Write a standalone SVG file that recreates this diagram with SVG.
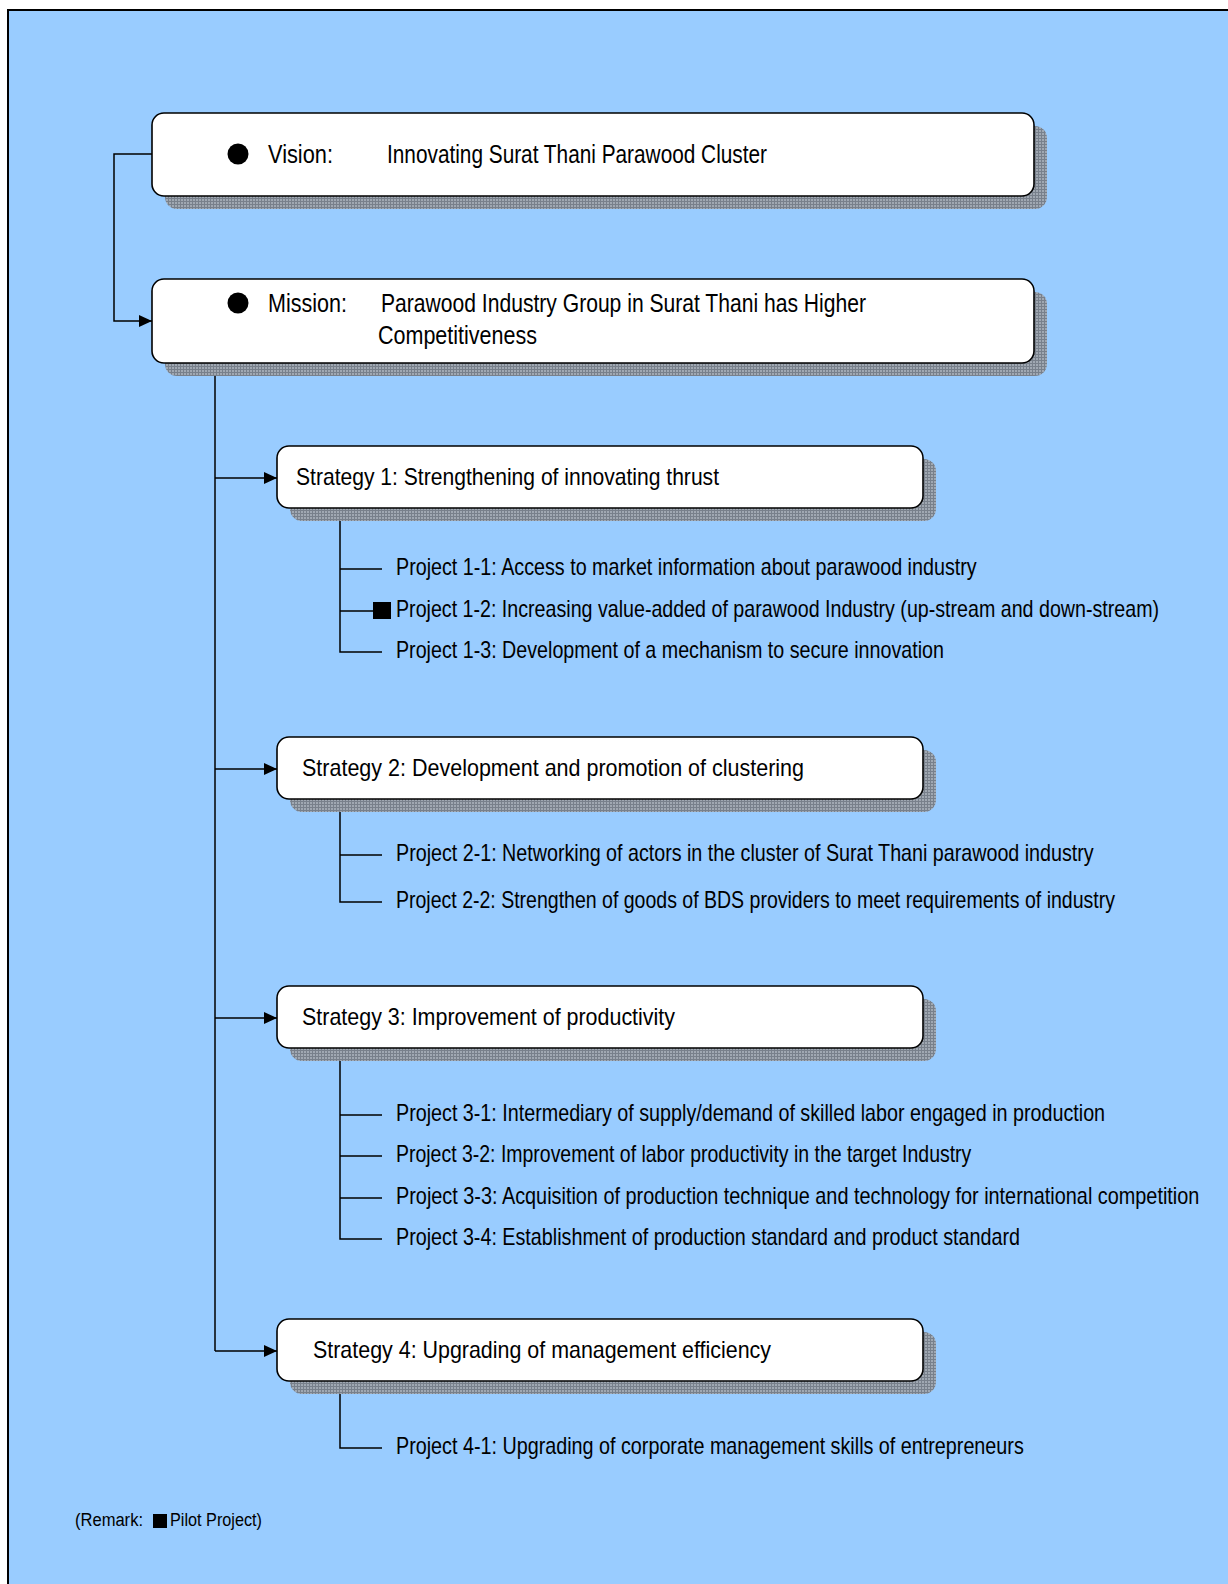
<svg xmlns="http://www.w3.org/2000/svg" width="1228" height="1584" viewBox="0 0 1228 1584">
<style>
.box{fill:#fff;stroke:#000;stroke-width:1.6}
.sh{fill:url(#hatch)}
.t{font-family:"Liberation Sans",Arial,sans-serif;fill:#000}
.big{font-size:25px}
.st{font-size:24px}
.pj{font-size:23px}
.rm{font-size:18px}
.ln{fill:none;stroke:#000;stroke-width:1.5}
</style>
<defs>
<pattern id="hatch" patternUnits="userSpaceOnUse" width="3" height="3">
<rect width="3" height="3" fill="#a0a8b2"/>
<rect width="3" height="1" fill="#78808b"/>
<rect width="1" height="3" fill="#78808b"/>
</pattern>
<marker id="arr" markerWidth="13" markerHeight="12" refX="13" refY="6" orient="auto" markerUnits="userSpaceOnUse">
<path d="M0,0 L13,6 L0,12 Z" fill="#000"/>
</marker>
</defs>
<rect x="8" y="10" width="1240" height="1600" fill="#99CCFF" stroke="#000" stroke-width="2"/>

<g id="connectors">
<path class="ln" d="M152,154 H114 V321 H152" marker-end="url(#arr)"/>
<path class="ln" d="M215,365 V1351"/>
<path class="ln" d="M215,478 H277" marker-end="url(#arr)"/>
<path class="ln" d="M215,769 H277" marker-end="url(#arr)"/>
<path class="ln" d="M215,1018 H277" marker-end="url(#arr)"/>
<path class="ln" d="M215,1351 H277" marker-end="url(#arr)"/>
<path class="ln" d="M340,508 V652 H382 M340,569 H382 M340,611 H374"/>
<path class="ln" d="M340,800 V902 H382 M340,855 H382"/>
<path class="ln" d="M340,1049 V1239 H382 M340,1115 H382 M340,1156 H382 M340,1198 H382"/>
<path class="ln" d="M340,1382 V1448 H382"/>
</g>

<g id="vision">
<rect class="sh" x="165" y="126" width="882" height="83" rx="12"/>
<rect class="box" x="152" y="113" width="882" height="83" rx="12"/>
<circle cx="238" cy="154" r="10.5"/>
<text class="t big" x="268" y="163" textLength="65" lengthAdjust="spacingAndGlyphs">Vision:</text>
<text class="t big" x="387" y="163" textLength="380" lengthAdjust="spacingAndGlyphs">Innovating Surat Thani Parawood Cluster</text>
</g>

<g id="mission">
<rect class="sh" x="165" y="292" width="882" height="84" rx="12"/>
<rect class="box" x="152" y="279" width="882" height="84" rx="12"/>
<circle cx="238" cy="303" r="10.5"/>
<text class="t big" x="268" y="312" textLength="79" lengthAdjust="spacingAndGlyphs">Mission:</text>
<text class="t big" x="381" y="312" textLength="485" lengthAdjust="spacingAndGlyphs">Parawood Industry Group in Surat Thani has Higher</text>
<text class="t big" x="378" y="344" textLength="159" lengthAdjust="spacingAndGlyphs">Competitiveness</text>
</g>

<g id="strategy1">
<rect class="sh" x="290" y="459" width="646" height="62" rx="12"/>
<rect class="box" x="277" y="446" width="646" height="62" rx="12"/>
<text class="t st" x="296" y="485" textLength="423" lengthAdjust="spacingAndGlyphs">Strategy 1: Strengthening of innovating thrust</text>
</g>
<g id="project1-1"><text class="t pj" transform="translate(396,575) scale(0.76,1)" x="0" y="0" textLength="764" lengthAdjust="spacingAndGlyphs">Project 1-1: Access to market information about parawood industry</text></g>
<g id="project1-2"><rect x="373" y="602" width="18" height="17" fill="#000"/><text class="t pj" transform="translate(396,617) scale(0.76,1)" x="0" y="0" textLength="1004" lengthAdjust="spacingAndGlyphs">Project 1-2: Increasing value-added of parawood Industry (up-stream and down-stream)</text></g>
<g id="project1-3"><text class="t pj" transform="translate(396,658) scale(0.76,1)" x="0" y="0" textLength="721" lengthAdjust="spacingAndGlyphs">Project 1-3: Development of a mechanism to secure innovation</text></g>

<g id="strategy2">
<rect class="sh" x="290" y="750" width="646" height="62" rx="12"/>
<rect class="box" x="277" y="737" width="646" height="62" rx="12"/>
<text class="t st" x="302" y="776" textLength="502" lengthAdjust="spacingAndGlyphs">Strategy 2: Development and promotion of clustering</text>
</g>
<g id="project2-1"><text class="t pj" transform="translate(396,861) scale(0.76,1)" x="0" y="0" textLength="918" lengthAdjust="spacingAndGlyphs">Project 2-1: Networking of actors in the cluster of Surat Thani parawood industry</text></g>
<g id="project2-2"><text class="t pj" transform="translate(396,908) scale(0.76,1)" x="0" y="0" textLength="946" lengthAdjust="spacingAndGlyphs">Project 2-2: Strengthen of goods of BDS providers to meet requirements of industry</text></g>

<g id="strategy3">
<rect class="sh" x="290" y="999" width="646" height="62" rx="12"/>
<rect class="box" x="277" y="986" width="646" height="62" rx="12"/>
<text class="t st" x="302" y="1025" textLength="373" lengthAdjust="spacingAndGlyphs">Strategy 3: Improvement of productivity</text>
</g>
<g id="project3-1"><text class="t pj" transform="translate(396,1121) scale(0.76,1)" x="0" y="0" textLength="933" lengthAdjust="spacingAndGlyphs">Project 3-1: Intermediary of supply/demand of skilled labor engaged in production</text></g>
<g id="project3-2"><text class="t pj" transform="translate(396,1162) scale(0.76,1)" x="0" y="0" textLength="757" lengthAdjust="spacingAndGlyphs">Project 3-2: Improvement of labor productivity in the target Industry</text></g>
<g id="project3-3"><text class="t pj" transform="translate(396,1204) scale(0.76,1)" x="0" y="0" textLength="1057" lengthAdjust="spacingAndGlyphs">Project 3-3: Acquisition of production technique and technology for international competition</text></g>
<g id="project3-4"><text class="t pj" transform="translate(396,1245) scale(0.76,1)" x="0" y="0" textLength="821" lengthAdjust="spacingAndGlyphs">Project 3-4: Establishment of production standard and product standard</text></g>

<g id="strategy4">
<rect class="sh" x="290" y="1332" width="646" height="62" rx="12"/>
<rect class="box" x="277" y="1319" width="646" height="62" rx="12"/>
<text class="t st" x="313" y="1358" textLength="458" lengthAdjust="spacingAndGlyphs">Strategy 4: Upgrading of management efficiency</text>
</g>
<g id="project4-1"><text class="t pj" transform="translate(396,1454) scale(0.76,1)" x="0" y="0" textLength="826" lengthAdjust="spacingAndGlyphs">Project 4-1: Upgrading of corporate management skills of entrepreneurs</text></g>

<g id="remark">
<text class="t rm" x="75" y="1526" textLength="68" lengthAdjust="spacingAndGlyphs">(Remark:</text>
<rect x="153" y="1514" width="14" height="14" fill="#000"/>
<text class="t rm" x="170" y="1526" textLength="92" lengthAdjust="spacingAndGlyphs">Pilot Project)</text>
</g>
</svg>
